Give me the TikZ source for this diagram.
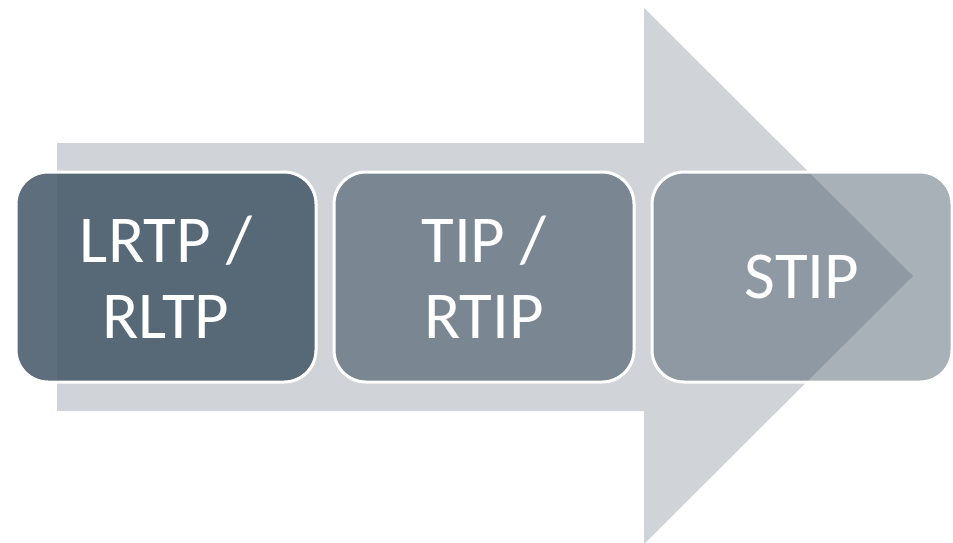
\documentclass[tikz,border=0pt]{standalone}
\usepackage{fontspec}
\setmainfont{Carlito}
\usepackage{xcolor}
\usepackage{tikz}
\usetikzlibrary{
  calc
}
\definecolor{arrowgrey}{RGB}{208,212,216}
\definecolor{slate}{RGB}{70,88,104}
\tikzset{
  stage/.style={
    rectangle,
    rounded corners=32pt,
    draw=white,
    line width=3pt,
    fill=slate,
    text=white,
    text opacity=1,
    align=center,
    minimum width=300pt,
    minimum height=210pt,
    font=\fontsize{67}{76}\selectfont}
  }

\begin{document}
\begin{tikzpicture}[x=1pt,y=-1pt]
      \useasboundingbox (0,0) rectangle (953,543);
      % the wide arrow behind the boxes
      \fill [arrowgrey] (57,143) -- (644,143) -- (644,8) -- (913,276)
        -- (644,544) -- (644,411) -- (57,411) -- cycle;
      \node [stage, fill opacity=0.87] (lrtp) at (166,277) {LRTP /\\RLTP};
      \node [stage, fill opacity=0.62] (tip) at (484,277) {TIP /\\RTIP};
      \node [stage, fill opacity=0.47] (stip) at (802,277) {STIP};
    \end{tikzpicture}
\end{document}
